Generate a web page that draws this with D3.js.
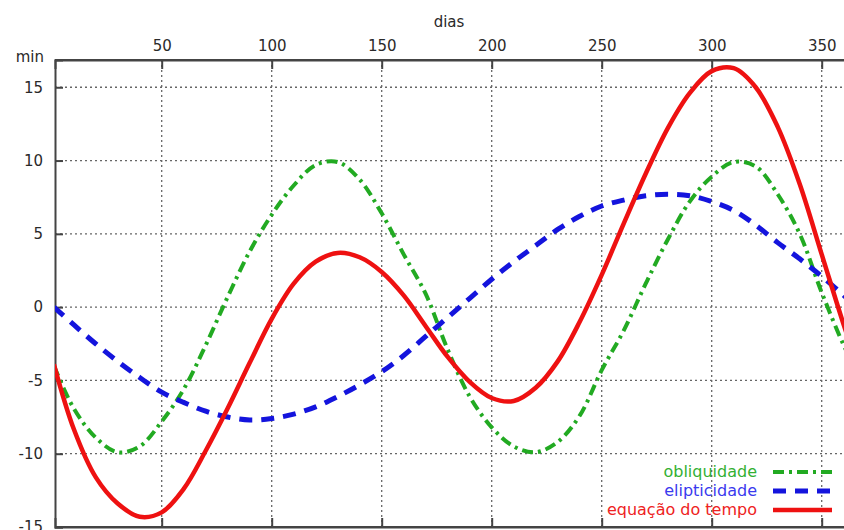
<!DOCTYPE html>
<html>
<head>
<meta charset="utf-8">
<script src="https://cdn.jsdelivr.net/npm/d3@7"></script>
<style>
  body { margin: 0; background: #fff; }
  text { font-family: "DejaVu Sans", sans-serif; fill: #2a2a2a; }
</style>
</head>
<body>
<svg id="chart" width="844" height="530"></svg>
<script>
// days of the year where the curves were read
let days = [1, 10, 20, 30, 40, 50, 60, 70, 80, 90, 100, 110, 120, 130, 140, 150, 160, 170, 180,
  190, 200, 210, 220, 230, 240, 250, 260, 270, 280, 290, 300, 310, 320, 330, 340, 350, 360, 365]

// obliquidade (green, dash-dot)
let obliquidade = [-4.0, -6.9, -8.9, -9.9, -9.5, -7.8, -5.6, -2.6, 0.7, 3.8, 6.3, 8.3, 9.7, 9.9,
  8.7, 6.4, 3.6, 0.9, -2.9, -6.1, -8.2, -9.5, -9.9, -9.2, -7.4, -4.3, -1.6, 1.6, 4.6, 7.2, 8.9,
  9.9, 9.6, 7.7, 5.0, 1.0, -2.6, -4.1]

// elipticidade (blue, dashed)
let elipticidade = [0, -1.2, -2.5, -3.7, -4.8, -5.8, -6.5, -7.1, -7.5, -7.7, -7.6, -7.3, -6.8,
  -6.1, -5.3, -4.4, -3.3, -2.0, -0.7, 0.6, 1.9, 3.1, 4.2, 5.3, 6.2, 6.9, 7.3, 7.6, 7.7, 7.6, 7.2,
  6.6, 5.6, 4.4, 3.3, 2.1, 0.8, 0.1]

// equação do tempo (red, solid)
let equacao = [-3.9, -8.3, -11.6, -13.4, -14.3, -14.0, -12.4, -9.8, -6.9, -3.8, -0.8, 1.6, 3.1,
  3.7, 3.4, 2.4, 0.8, -1.3, -3.4, -5.1, -6.2, -6.4, -5.5, -3.7, -1.0, 2.2, 5.7, 9.1, 12.2, 14.6,
  16.1, 16.3, 15.0, 12.3, 8.4, 3.6, -1.2, -3.4]

let xTicks = [50, 100, 150, 200, 250, 300, 350]
let yTicks = [-15, -10, -5, 0, 5, 10, 15]

let series = [
  {name: 'obliquidade', values: obliquidade, color: '#22aa22', dash: '11,5,3,5', width: 4},
  {name: 'elipticidade', values: elipticidade, color: '#1414dd', dash: '13,9', width: 5},
  {name: 'equação do tempo', values: equacao, color: '#ee1111', dash: null, width: 4.5}
]
let labelColors = ['#33b033', '#3a3aee', '#ee2222']

let plotLeft = 55, plotTop = 60, plotRight = 900, plotBottom = 527

let svg = d3.select('svg#chart')

// scales
let xScale = d3.scaleLinear()
  .domain([1.5, 365])
  .range([plotLeft, plotLeft + (365 - 1.5) * 2.2])

let yScale = d3.scaleLinear()
  .domain([-15, 16.86])
  .range([plotBottom, plotTop])

svg.append('clipPath')
  .attr('id', 'plot')
  .append('rect')
  .attr('x', plotLeft)
  .attr('y', plotTop)
  .attr('width', plotRight - plotLeft)
  .attr('height', plotBottom - plotTop)

// dotted grid
let grid = svg.append('g')
grid.selectAll('.gx')
  .data(xTicks)
  .enter()
  .append('line')
  .attr('x1', d => xScale(d))
  .attr('x2', d => xScale(d))
  .attr('y1', plotTop)
  .attr('y2', plotBottom)
grid.selectAll('.gy')
  .data(yTicks)
  .enter()
  .append('line')
  .attr('x1', plotLeft)
  .attr('x2', plotRight)
  .attr('y1', d => yScale(d))
  .attr('y2', d => yScale(d))
grid.selectAll('line')
  .attr('stroke', '#666')
  .attr('stroke-width', 1.3)
  .attr('stroke-dasharray', '2,3')

// axes: x labels on top, y labels left
svg.append('g')
  .attr('transform', `translate(0, ${plotTop})`)
  .call(d3.axisTop(xScale).tickValues(xTicks).tickSize(-9).tickPadding(9).tickFormat(d => String(d)))
svg.append('g')
  .attr('transform', `translate(${plotLeft}, 0)`)
  .call(d3.axisLeft(yScale).tickValues(yTicks).tickSize(-8).tickPadding(12).tickFormat(d => String(d)))

// bottom ticks
svg.append('g')
  .attr('transform', `translate(0, ${plotBottom})`)
  .call(d3.axisBottom(xScale).tickValues(xTicks).tickSize(-9).tickFormat(''))

svg.selectAll('.domain').attr('stroke', '#444').attr('stroke-width', 2)
svg.selectAll('.tick line').attr('stroke', '#444').attr('stroke-width', 2)
svg.selectAll('.tick text')
  .attr('font-size', 15)
  .attr('fill', '#2a2a2a')
  .style('font-family', '"DejaVu Sans", sans-serif')

// top and bottom frame lines across the full width
svg.append('line')
  .attr('x1', plotLeft).attr('x2', 844)
  .attr('y1', plotTop).attr('y2', plotTop)
  .attr('stroke', '#444').attr('stroke-width', 2)
svg.append('line')
  .attr('x1', plotLeft).attr('x2', 844)
  .attr('y1', plotBottom).attr('y2', plotBottom)
  .attr('stroke', '#444').attr('stroke-width', 2)

// curves
let line = d3.line()
  .x((d, i) => xScale(days[i]))
  .y(d => yScale(d))
  .curve(d3.curveCatmullRom)

let curves = svg.append('g').attr('clip-path', 'url(#plot)')
series.forEach(s => {
  curves.append('path')
    .attr('d', line(s.values))
    .attr('fill', 'none')
    .attr('stroke', s.color)
    .attr('stroke-width', s.width)
    .attr('stroke-dasharray', s.dash)
})

// legend
let legend = svg.append('g')
series.forEach((s, i) => {
  let y = 472 + i * 19
  legend.append('text')
    .attr('x', 757)
    .attr('y', y + 5)
    .attr('text-anchor', 'end')
    .attr('font-size', 16)
    .style('fill', labelColors[i])
    .text(s.name)
  legend.append('line')
    .attr('x1', 773).attr('x2', 832)
    .attr('y1', y).attr('y2', y)
    .attr('stroke', s.color)
    .attr('stroke-width', s.width)
    .attr('stroke-dasharray', s.dash)
})

// axis titles
svg.append('text')
  .attr('x', 449)
  .attr('y', 27)
  .attr('text-anchor', 'middle')
  .attr('font-size', 15)
  .text('dias')

svg.append('text')
  .attr('x', 44)
  .attr('y', 62)
  .attr('text-anchor', 'end')
  .attr('font-size', 15)
  .text('min')
</script>
</body>
</html>
